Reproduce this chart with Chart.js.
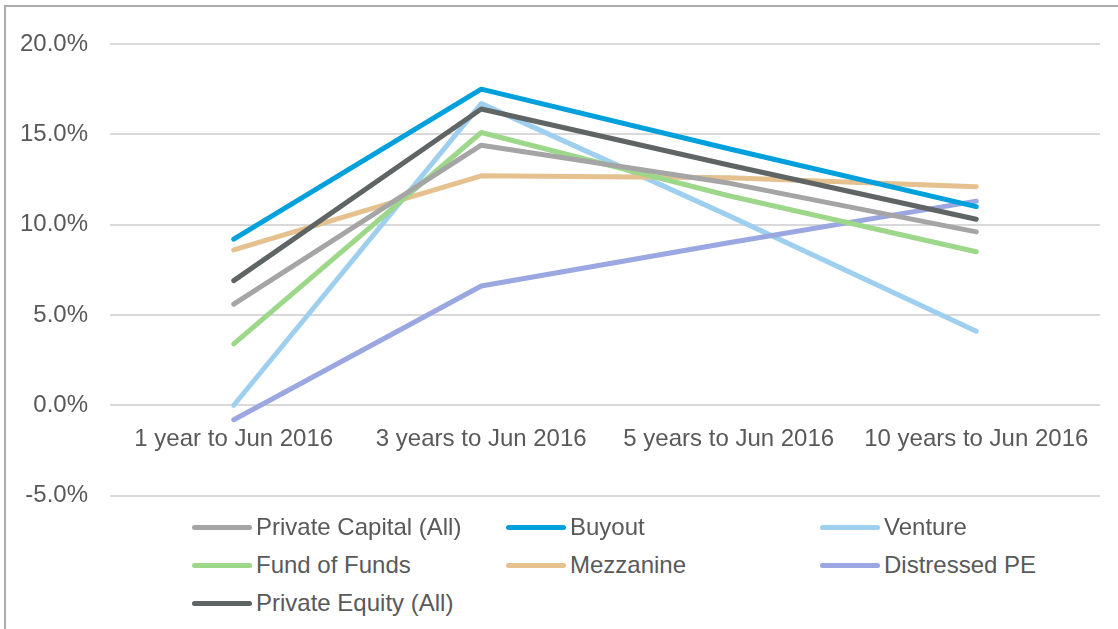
<!DOCTYPE html>
<html>
<head>
<meta charset="utf-8">
<script src="https://cdn.jsdelivr.net/npm/chart.js@4"></script>
<style>
  body { margin: 0; background: #fff; width: 1118px; height: 629px; overflow: hidden; position: relative; font-family: 'Liberation Sans', Arial, sans-serif; }
  #frame { position: absolute; left: 4px; top: 5px; width: 1114px; height: 624px; border-top: 2px solid #adadad; border-left: 2px solid #adadad; }
  #wrap { position: absolute; left: 0; top: 0; width: 1118px; height: 532px; }
  #legend { position: absolute; left: 192px; top: 508px; width: 940px; }
  .item { position: absolute; height: 38px; display: flex; align-items: center; color: #595959; font-size: 24px; white-space: nowrap; }
  .swatch { width: 60px; height: 5px; border-radius: 3px; margin-right: 4px; }
</style>
</head>
<body>
<div id="frame"></div>
<div id="wrap"><canvas id="chart"></canvas></div>
<div id="legend"></div>
<script>
  // Categories and tick labels
  const periods = ['1 year to Jun 2016', '3 years to Jun 2016', '5 years to Jun 2016', '10 years to Jun 2016'];
  const yTicks = [-5, 0, 5, 10, 15, 20];

  // Series values (%)
  const privateCapital = [5.6, 14.4, 12.3, 9.6];
  const buyout = [9.2, 17.5, 14.2, 11.0];
  const venture = [0.0, 16.7, 10.5, 4.1];
  const fundOfFunds = [3.4, 15.1, 11.6, 8.5];
  const mezzanine = [8.6, 12.7, 12.6, 12.1];
  const distressed = [-0.8, 6.6, 9.0, 11.3];
  const privateEquity = [6.9, 16.4, 13.3, 10.3];

  const seriesNames = ['Private Capital (All)', 'Buyout', 'Venture', 'Fund of Funds', 'Mezzanine', 'Distressed PE', 'Private Equity (All)'];
  const seriesValues = [privateCapital, buyout, venture, fundOfFunds, mezzanine, distressed, privateEquity];
  const seriesColors = ['#a5a5a5', '#00a0dc', '#9fcfef', '#9dd78a', '#e4c18e', '#9ba7e0', '#5f6465'];

  // Draw order: later series painted on top
  const drawOrder = [2, 5, 4, 3, 0, 6, 1];

  const datasets = seriesNames.map((name, i) => ({
    label: name,
    data: seriesValues[i],
    borderColor: seriesColors[i],
    backgroundColor: seriesColors[i],
    borderWidth: 5,
    borderCapStyle: 'round',
    borderJoinStyle: 'round',
    pointRadius: 0,
    tension: 0,
    fill: false,
    order: drawOrder.length - drawOrder.indexOf(i)
  }));

  const textColor = '#595959';
  const fontFamily = "'Liberation Sans', Arial, sans-serif";

  new Chart(document.getElementById('chart').getContext('2d'), {
    type: 'line',
    data: { labels: periods, datasets: datasets },
    options: {
      responsive: true,
      maintainAspectRatio: false,
      animation: false,
      layout: { padding: { top: 44, right: 18, bottom: 6, left: 0 } },
      scales: {
        x: {
          position: { y: 0 },
          offset: true,
          grid: { display: false, drawTicks: false },
          border: { display: false },
          ticks: { color: textColor, padding: 20, maxRotation: 0, autoSkip: false, font: { family: fontFamily, size: 24 } },
          afterFit: (scale) => { scale.height = 10; }
        },
        y: {
          min: -5,
          max: 20,
          afterBuildTicks: (scale) => { scale.ticks = yTicks.map(v => ({ value: v })); },
          grid: { color: '#d9d9d9', lineWidth: 2, drawTicks: false },
          border: { display: false },
          ticks: {
            color: textColor,
            padding: 22,
            font: { family: fontFamily, size: 24 },
            callback: (v) => v.toFixed(1) + '%'
          },
          afterFit: (scale) => { scale.width = 110; }
        }
      },
      plugins: {
        legend: { display: false },
        tooltip: { enabled: false }
      }
    }
  });

  // Legend in three columns
  const legendEl = document.getElementById('legend');
  seriesNames.forEach((name, i) => {
    const item = document.createElement('div');
    item.className = 'item';
    item.style.left = (i % 3) * 314 + 'px';
    item.style.top = Math.floor(i / 3) * 38 + 'px';
    item.innerHTML = `<span class="swatch" style="background:${seriesColors[i]}"></span>${name}`;
    legendEl.appendChild(item);
  });
</script>
</body>
</html>
